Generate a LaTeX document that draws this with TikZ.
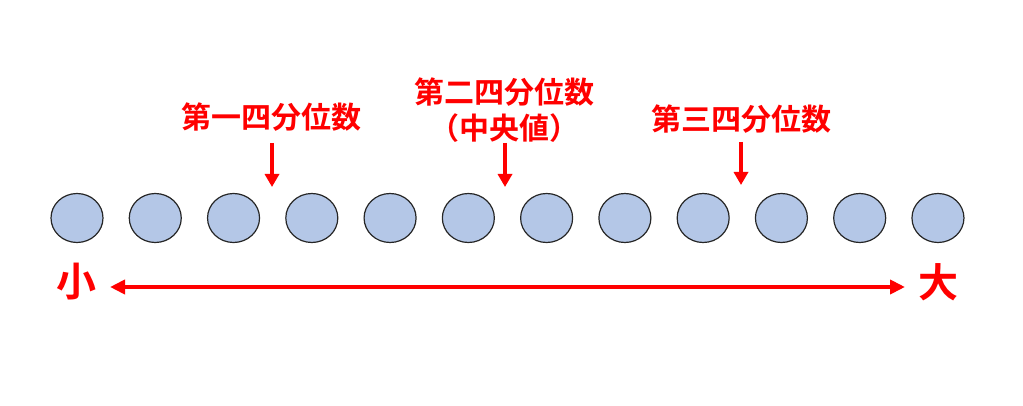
\documentclass[tikz,border=0pt]{standalone}
\usepackage{fontspec}
\newfontfamily\cjk{Noto Sans CJK JP}[BoldFont={Noto Sans CJK JP Bold}]
\usetikzlibrary{arrows.meta, positioning, shapes.geometric}
\definecolor{dotblue}{RGB}{180,199,231}

\begin{document}
\begin{tikzpicture}[
        x=1pt, y=-1pt,
        dot/.style={ellipse, draw=black!85, fill=dotblue, line width=1.2pt, minimum width=52pt, minimum height=49pt, inner sep=0pt},
        qlabel/.style={text=red, font=\cjk\bfseries\fontsize{30}{36}\selectfont, align=center, inner sep=0pt},
        endlabel/.style={text=red, font=\cjk\bfseries\fontsize{40}{48}\selectfont, inner sep=0pt},
        arrow/.style={-{Triangle[length=13pt, width=14pt]}, line width=4pt, color=red}
    ]
        \useasboundingbox (0,0) rectangle (1023,406);
        % data points
        \foreach \i in {1,...,12}
            \node[dot] (d\i) at ({77+78.27*(\i-1)}, 218) {};
        % quartile labels
        \node[qlabel] (q1) at (271,117) {第一四分位数};
        \node[qlabel] (q2) at (504,110) {第二四分位数\\（中央値）};
        \node[qlabel] (q3) at (741,119) {第三四分位数};
        \coordinate (q1s) at (272,143);
        \coordinate (q1e) at (272,187);
        \coordinate (q2s) at (505,143);
        \coordinate (q2e) at (505,187);
        \coordinate (q3s) at (741,142);
        \coordinate (q3e) at (741,185);
        \draw[arrow] (q1s) -- (q1e);
        \draw[arrow] (q2s) -- (q2e);
        \draw[arrow] (q3s) -- (q3e);
        % small to large
        \node[endlabel] (small) at (76,282) {小};
        \node[endlabel] (large) at (938,282) {大};
        \coordinate (lo) at (110,287);
        \coordinate (hi) at (905,287);
        \draw[arrow, {Triangle[length=15pt, width=14pt]}-{Triangle[length=15pt, width=14pt]}] (lo) -- (hi);
    \end{tikzpicture}
\end{document}
